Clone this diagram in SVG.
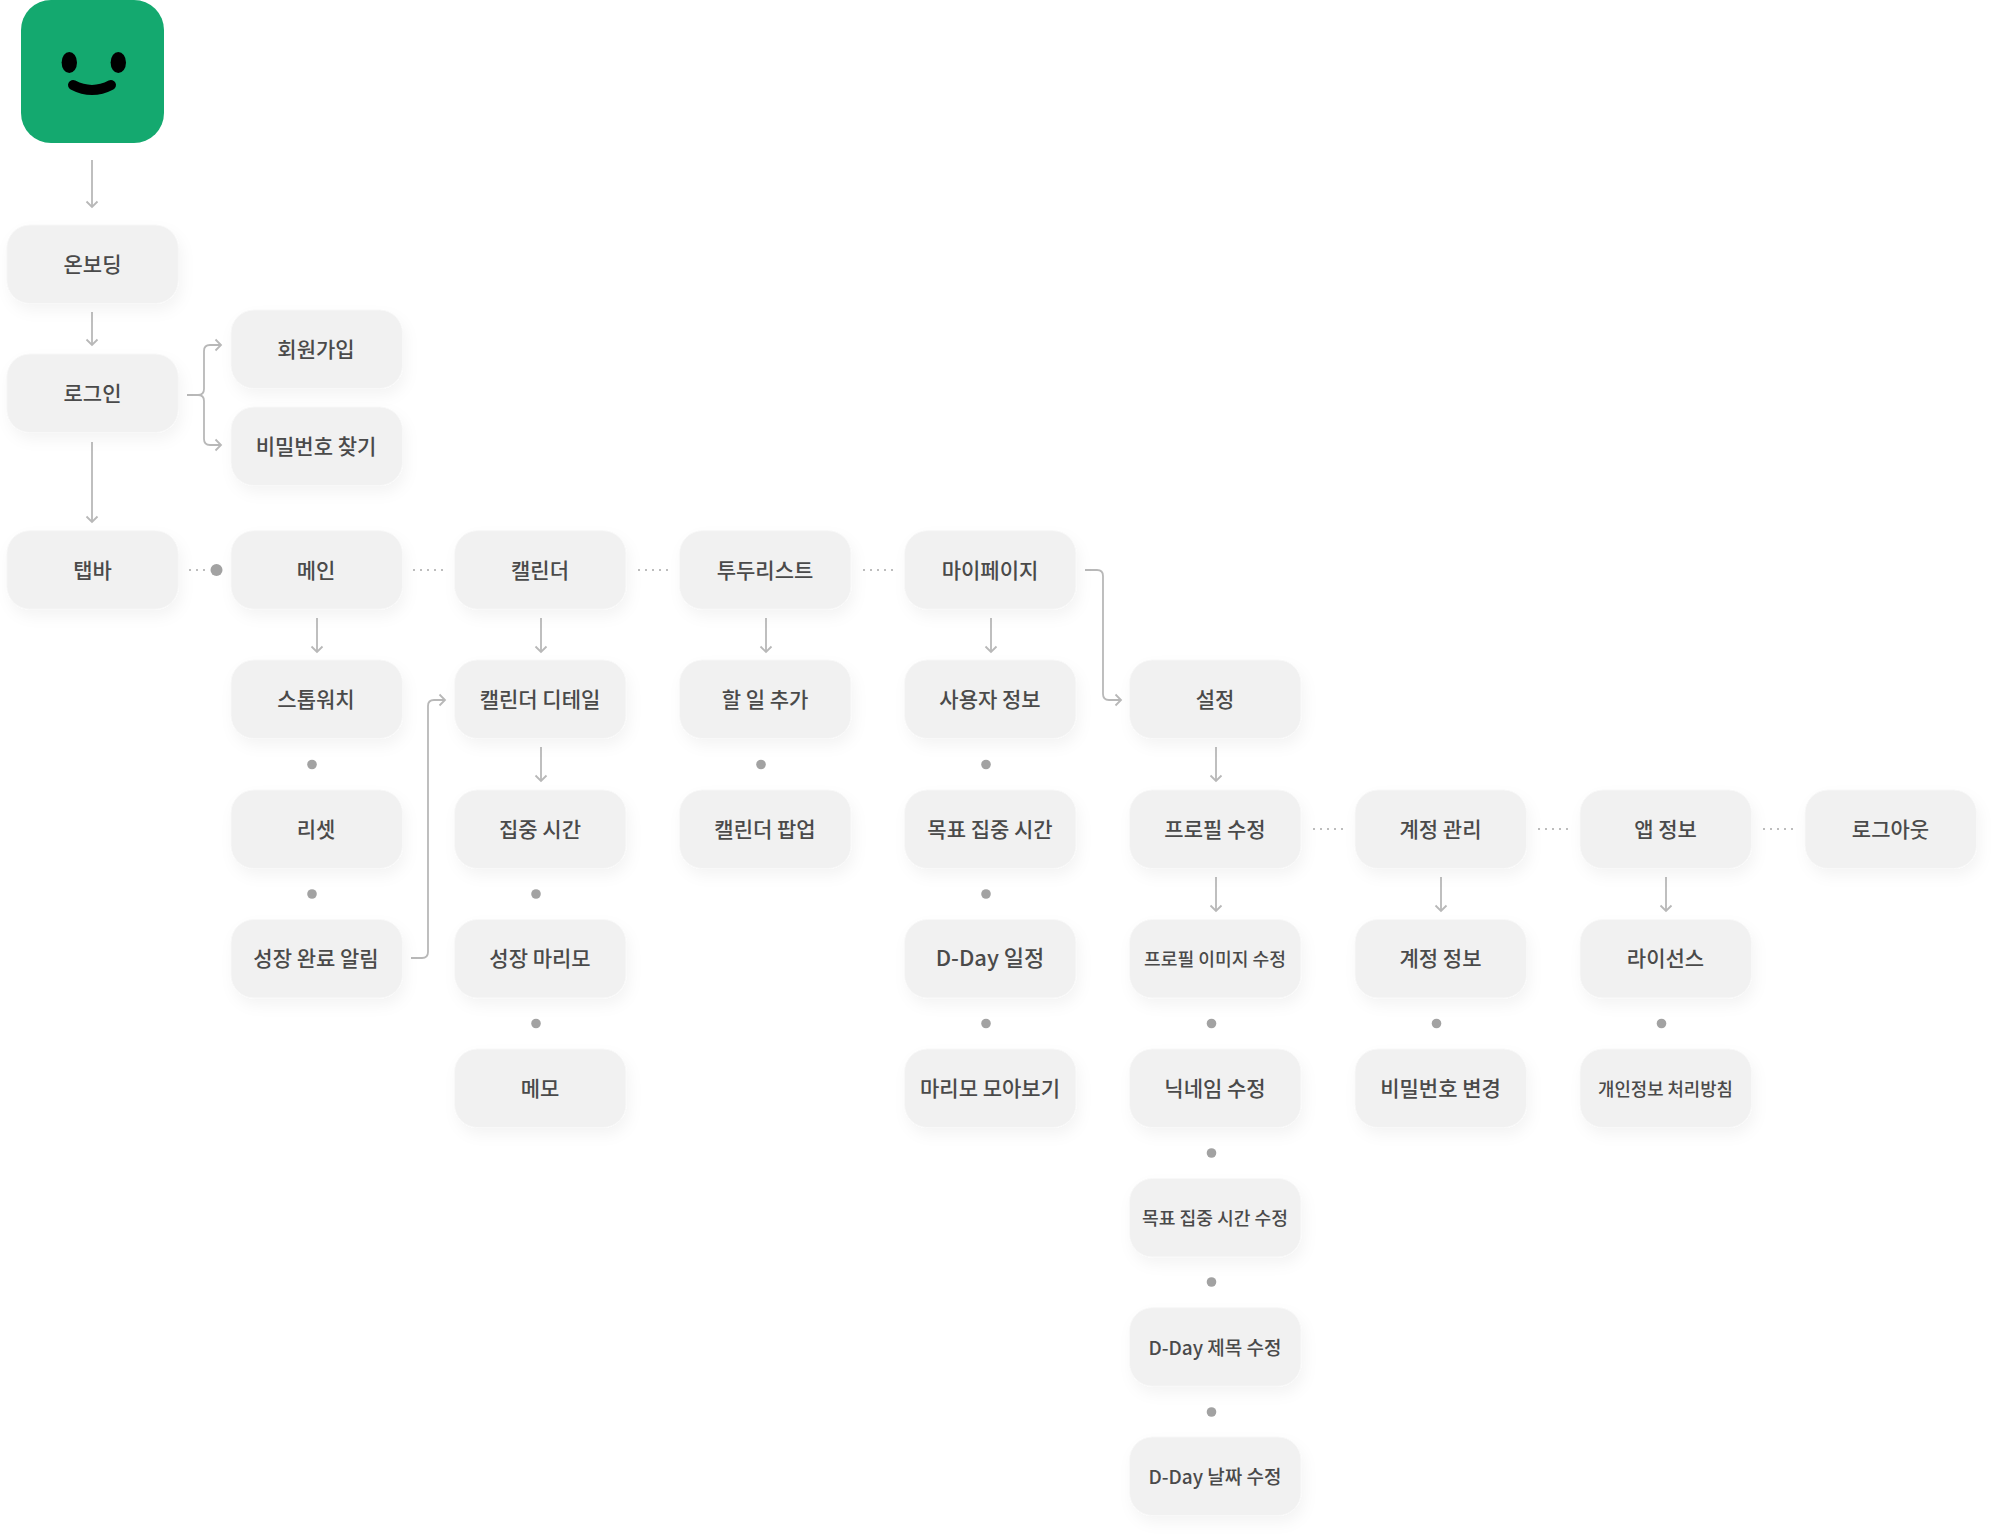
<svg xmlns="http://www.w3.org/2000/svg" width="2000" height="1539" viewBox="0 0 2000 1539">
<style>
text{font-family:"Noto Sans CJK KR","Noto Sans",sans-serif;font-weight:500;font-size:21px;fill:#4a4a4a;text-anchor:middle}
text.s{font-size:18.2px}
text.sd{font-size:19px}
text.ld{font-size:22px}
.n{fill:#f1f1f1;stroke:#f8f8f8;stroke-width:1;filter:url(#sh)}
.c{fill:none;stroke:#b8b8b8;stroke-width:1.8;stroke-linejoin:round}
.a{marker-end:url(#ah)}
.d{fill:none;stroke:#bdbdbd;stroke-width:2;stroke-dasharray:2 5}
.o{fill:#a2a2a2}
</style>
<defs>
<filter id="sh" x="-20%" y="-30%" width="140%" height="170%"><feDropShadow dx="3" dy="7" stdDeviation="7" flood-color="#000" flood-opacity="0.045"/></filter>
<marker id="ah" markerUnits="userSpaceOnUse" markerWidth="14" markerHeight="14" refX="10" refY="7" orient="auto"><path d="M4.5 1.5L10 7L4.500 12.500" fill="none" stroke="#b8b8b8" stroke-width="1.800"/></marker>
<symbol id="r" overflow="visible"><rect class="n" width="171.500" height="78.500" rx="23"/></symbol>
</defs>
<g id="connectors">
<path class="c a" d="M92 160V207"/>
<path class="c a" d="M92 312V345"/>
<path class="c a" d="M92 442V522"/>
<path class="c a" d="M187 395H198Q204 395 204 389V351Q204 345 210 345H221"/>
<path class="c a" d="M187 395H198Q204 395 204 401V439Q204 445 210 445H221"/>
<path class="d" d="M189 570H208"/><circle class="o" cx="216.500" cy="570" r="6"/>
<path class="d" d="M413 570H443"/><path class="d" d="M638 570H668"/><path class="d" d="M863 570H893"/>
<path class="c a" d="M317 618V652"/><path class="c a" d="M541 618V652"/><path class="c a" d="M766 618V652"/><path class="c a" d="M991 618V652"/>
<path class="c a" d="M1216 747V781"/><path class="c a" d="M541 747V781"/>
<path class="c a" d="M1216 877V911"/><path class="c a" d="M1441 877V911"/><path class="c a" d="M1666 877V911"/>
<path class="d" d="M1313 829H1343"/><path class="d" d="M1538 829H1568"/><path class="d" d="M1763 829H1793"/>
<path class="c a" d="M411 958H422Q428 958 428 952V706Q428 700 434 700H445"/>
<path class="c a" d="M1085 570H1097Q1103 570 1103 576V694Q1103 700 1109 700H1121"/>
<circle class="o" cx="312" cy="764.500" r="4.800"/><circle class="o" cx="312" cy="894" r="4.800"/>
<circle class="o" cx="536" cy="894" r="4.800"/><circle class="o" cx="536" cy="1023.500" r="4.800"/>
<circle class="o" cx="761" cy="764.500" r="4.800"/>
<circle class="o" cx="986" cy="764.500" r="4.800"/><circle class="o" cx="986" cy="894" r="4.800"/><circle class="o" cx="986" cy="1023.500" r="4.800"/>
<circle class="o" cx="1211.500" cy="1023.500" r="4.800"/><circle class="o" cx="1211.500" cy="1153" r="4.800"/><circle class="o" cx="1211.500" cy="1282" r="4.800"/><circle class="o" cx="1211.500" cy="1412" r="4.800"/>
<circle class="o" cx="1436.500" cy="1023.500" r="4.800"/><circle class="o" cx="1661.500" cy="1023.500" r="4.800"/>
</g>
<g id="logo"><rect x="21" y="0" width="143" height="143" rx="30" fill="#14a96f"/><ellipse cx="69.300" cy="62.500" rx="7.700" ry="10.500"/><ellipse cx="118.300" cy="62.500" rx="7.700" ry="10.500"/><path d="M73 85Q92 95 111 85" fill="none" stroke="#000" stroke-width="10" stroke-linecap="round"/></g>
<g id="n1"><use href="#r" x="6.800" y="225"/><text x="92.500" y="271.500">온보딩</text></g>
<g id="n2"><use href="#r" x="6.800" y="354"/><text x="92.500" y="401">로그인</text></g>
<g id="n3"><use href="#r" x="6.800" y="530.700"/><text x="92.500" y="577.500">탭바</text></g>
<g id="n4"><use href="#r" x="231" y="310"/><text x="316" y="357">회원가입</text></g>
<g id="n5"><use href="#r" x="231" y="407"/><text x="316" y="454">비밀번호 찾기</text></g>
<g id="n6"><use href="#r" x="231" y="530.700"/><text x="316" y="577.500">메인</text></g>
<g id="n7"><use href="#r" x="231" y="660"/><text x="316" y="707">스톱워치</text></g>
<g id="n8"><use href="#r" x="231" y="790"/><text x="316" y="836.500">리셋</text></g>
<g id="n9"><use href="#r" x="231" y="919.500"/><text x="316" y="966">성장 완료 알림</text></g>
<g id="n10"><use href="#r" x="454.500" y="530.700"/><text x="540" y="577.500">캘린더</text></g>
<g id="n11"><use href="#r" x="454.500" y="660"/><text x="540" y="707">캘린더 디테일</text></g>
<g id="n12"><use href="#r" x="454.500" y="790"/><text x="540" y="836.500">집중 시간</text></g>
<g id="n13"><use href="#r" x="454.500" y="919.500"/><text x="540" y="966">성장 마리모</text></g>
<g id="n14"><use href="#r" x="454.500" y="1049"/><text x="540" y="1095.500">메모</text></g>
<g id="n15"><use href="#r" x="679.500" y="530.700"/><text x="765" y="577.500">투두리스트</text></g>
<g id="n16"><use href="#r" x="679.500" y="660"/><text x="765" y="707">할 일 추가</text></g>
<g id="n17"><use href="#r" x="679.500" y="790"/><text x="765" y="836.500">캘린더 팝업</text></g>
<g id="n18"><use href="#r" x="904.500" y="530.700"/><text x="990" y="577.500">마이페이지</text></g>
<g id="n19"><use href="#r" x="904.500" y="660"/><text x="990" y="707">사용자 정보</text></g>
<g id="n20"><use href="#r" x="904.500" y="790"/><text x="990" y="836.500">목표 집중 시간</text></g>
<g id="n21"><use href="#r" x="904.500" y="919.500"/><text class="ld" x="990" y="966">D-Day 일정</text></g>
<g id="n22"><use href="#r" x="904.500" y="1049"/><text x="990" y="1095.500">마리모 모아보기</text></g>
<g id="n23"><use href="#r" x="1129.500" y="660"/><text x="1215" y="707">설정</text></g>
<g id="n24"><use href="#r" x="1129.500" y="790"/><text x="1215" y="836.500">프로필 수정</text></g>
<g id="n25"><use href="#r" x="1129.500" y="919.500"/><text class="s" x="1215" y="965.500">프로필 이미지 수정</text></g>
<g id="n26"><use href="#r" x="1129.500" y="1049"/><text x="1215" y="1095.500">닉네임 수정</text></g>
<g id="n27"><use href="#r" x="1129.500" y="1178.500"/><text class="s" x="1215" y="1225">목표 집중 시간 수정</text></g>
<g id="n28"><use href="#r" x="1129.500" y="1307.700"/><text class="sd" x="1215" y="1354.500">D-Day 제목 수정</text></g>
<g id="n29"><use href="#r" x="1129.500" y="1437"/><text class="sd" x="1215" y="1484">D-Day 날짜 수정</text></g>
<g id="n30"><use href="#r" x="1355" y="790"/><text x="1440.500" y="836.500">계정 관리</text></g>
<g id="n31"><use href="#r" x="1355" y="919.500"/><text x="1440.500" y="966">계정 정보</text></g>
<g id="n32"><use href="#r" x="1355" y="1049"/><text x="1440.500" y="1095.500">비밀번호 변경</text></g>
<g id="n33"><use href="#r" x="1580" y="790"/><text x="1665.500" y="836.500">앱 정보</text></g>
<g id="n34"><use href="#r" x="1580" y="919.500"/><text x="1665.500" y="966">라이선스</text></g>
<g id="n35"><use href="#r" x="1580" y="1049"/><text class="s" x="1665.500" y="1095.500" style="font-size:17.800px">개인정보 처리방침</text></g>
<g id="n36"><use href="#r" x="1805" y="790"/><text x="1890.500" y="836.500">로그아웃</text></g>
</svg>
